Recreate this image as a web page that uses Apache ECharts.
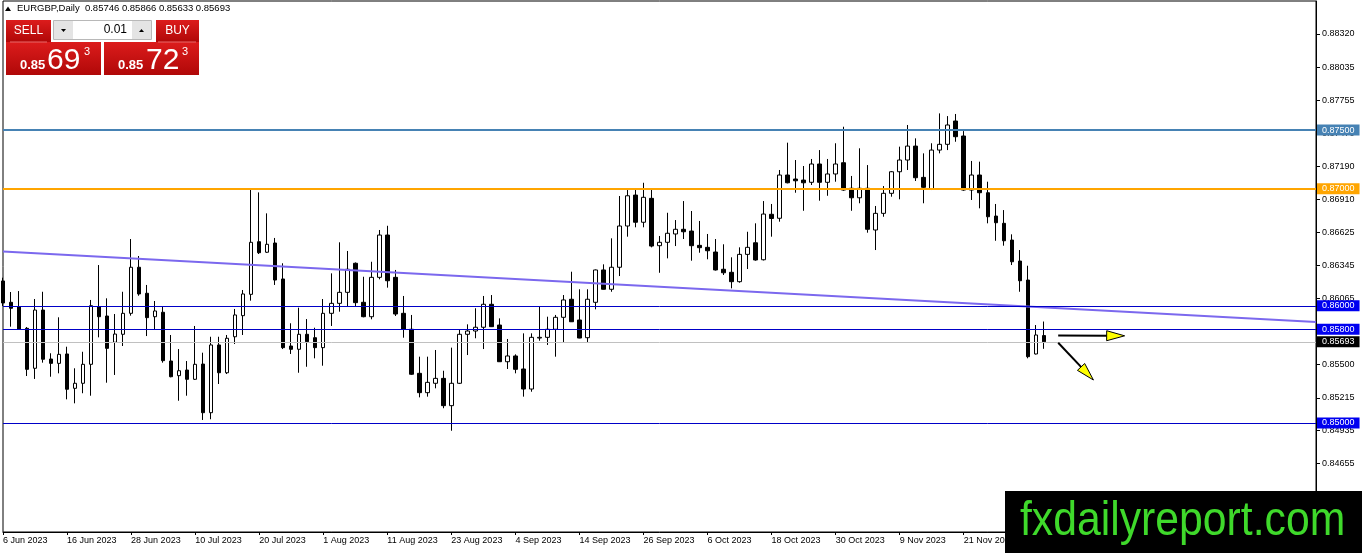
<!DOCTYPE html>
<html><head><meta charset="utf-8">
<script src="https://cdn.jsdelivr.net/npm/echarts@6/dist/echarts.min.js"></script>
<style>html,body{margin:0;padding:0;background:#fff;}#chart{width:1362px;height:553px;}</style>
</head><body><div id="chart"></div>
<script>
// ---------- data ----------
const symbolName = 'EURGBP';
const periodName = 'Daily';
const firstDate = [2023, 5, 6]; // 6 Jun 2023, weekday bars
const slotCount = 165;           // visible bar slots (incl. empty right margin)
const labelStep = 8;

const opens = [
0.86212,0.86030,0.85992,0.85808,0.85467,0.85964,0.85546,0.85509,0.85589,0.85296,
0.85339,0.85501,0.85992,0.85913,0.85689,0.85757,0.85936,0.86329,0.86107,0.85907,
0.85945,0.85529,0.85404,0.85452,0.85373,0.85503,0.85088,0.85666,0.85429,0.85736,
0.85916,0.86098,0.86547,0.86457,0.86536,0.86229,0.85657,0.85629,0.85757,0.85728,
0.85643,0.85936,0.86021,0.86115,0.86363,0.86030,0.85907,0.86243,0.86604,0.86243,
0.85936,0.85800,0.85424,0.85259,0.85339,0.85381,0.85148,0.85339,0.85757,0.85785,
0.85817,0.86013,0.85836,0.85523,0.85572,0.85461,0.85290,0.85725,0.85731,0.85800,
0.85902,0.86056,0.85879,0.85728,0.86030,0.86306,0.86141,0.86329,0.86681,0.86945,
0.86713,0.86917,0.86513,0.86542,0.86613,0.86653,0.86638,0.86516,0.86499,0.86459,
0.86312,0.86286,0.86206,0.86439,0.86538,0.86393,0.86781,0.86747,0.87116,0.87082,
0.87073,0.87054,0.87210,0.87054,0.87125,0.87221,0.87003,0.86922,0.87003,0.86647,
0.86789,0.86960,0.87144,0.87244,0.87363,0.87096,0.86994,0.87329,0.87378,0.87577,
0.87449,0.86988,0.87116,0.86965,0.86766,0.86704,0.86561,0.86382,0.86220,0.85589,
0.85746];
const highs = [
0.86240,0.86118,0.86126,0.85819,0.86058,0.86120,0.85595,0.85902,0.85651,0.85467,
0.85608,0.86050,0.86348,0.86064,0.85930,0.86120,0.86570,0.86425,0.86178,0.86041,
0.85992,0.85751,0.85631,0.85529,0.85828,0.85600,0.85736,0.85736,0.85751,0.85973,
0.86135,0.86997,0.86968,0.86789,0.86579,0.86363,0.85851,0.85984,0.85887,0.85813,
0.86058,0.86277,0.86542,0.86468,0.86370,0.86248,0.86376,0.86647,0.86683,0.86306,
0.86084,0.85922,0.85566,0.85566,0.85623,0.85446,0.85643,0.85800,0.85842,0.85979,
0.86084,0.86092,0.85893,0.85717,0.85586,0.85765,0.85765,0.85998,0.85907,0.85922,
0.86092,0.86291,0.86141,0.86141,0.86310,0.86354,0.86576,0.86937,0.86988,0.86997,
0.87050,0.86997,0.86596,0.86794,0.86732,0.86894,0.86809,0.86724,0.86613,0.86570,
0.86525,0.86414,0.86499,0.86632,0.86704,0.86894,0.86869,0.87159,0.87392,0.87244,
0.87193,0.87253,0.87329,0.87253,0.87387,0.87528,0.87108,0.87344,0.87201,0.86852,
0.87022,0.87150,0.87358,0.87543,0.87429,0.87301,0.87387,0.87642,0.87619,0.87637,
0.87491,0.87236,0.87230,0.87059,0.86869,0.86817,0.86610,0.86476,0.86342,0.85836,
0.85866];
const lows = [
0.85998,0.85822,0.85798,0.85401,0.85376,0.85515,0.85395,0.85424,0.85202,0.85168,
0.85254,0.85233,0.85731,0.85344,0.85410,0.85657,0.85916,0.86086,0.85742,0.85794,
0.85515,0.85390,0.85190,0.85233,0.85367,0.85026,0.85032,0.85333,0.85418,0.85674,
0.85751,0.86044,0.86442,0.86451,0.86178,0.85631,0.85589,0.85429,0.85480,0.85552,
0.85489,0.85828,0.85950,0.85998,0.85998,0.85902,0.85885,0.86226,0.86155,0.85913,
0.85728,0.85410,0.85219,0.85225,0.85296,0.85126,0.84934,0.85333,0.85580,0.85723,
0.85631,0.85819,0.85521,0.85461,0.85424,0.85225,0.85267,0.85702,0.85666,0.85566,
0.85685,0.85862,0.85723,0.85683,0.85970,0.86139,0.86120,0.86254,0.86590,0.86670,
0.86670,0.86499,0.86282,0.86405,0.86510,0.86570,0.86385,0.86453,0.86397,0.86301,
0.86263,0.86149,0.86197,0.86314,0.86385,0.86387,0.86590,0.86718,0.87045,0.86965,
0.86811,0.87031,0.86897,0.86939,0.87059,0.86982,0.86811,0.86875,0.86624,0.86476,
0.86760,0.86931,0.86909,0.87159,0.87065,0.86875,0.86988,0.87301,0.87329,0.87400,
0.86982,0.86903,0.86832,0.86704,0.86555,0.86513,0.86348,0.86120,0.85552,0.85585,
0.85633];
const closes = [
0.86024,0.85979,0.85802,0.85458,0.85964,0.85544,0.85509,0.85586,0.85288,0.85339,
0.85501,0.86001,0.85907,0.85637,0.85759,0.85936,0.86329,0.86101,0.85899,0.85956,
0.85532,0.85395,0.85446,0.85373,0.85501,0.85088,0.85666,0.85429,0.85723,0.85922,
0.86101,0.86542,0.86453,0.86525,0.86220,0.85643,0.85629,0.85757,0.85694,0.85643,
0.85936,0.86021,0.86115,0.86312,0.86027,0.85907,0.86243,0.86604,0.86214,0.85930,
0.85802,0.85416,0.85259,0.85347,0.85381,0.85148,0.85339,0.85757,0.85785,0.85817,
0.86013,0.85822,0.85523,0.85572,0.85458,0.85290,0.85731,0.85731,0.85800,0.85902,
0.86050,0.85864,0.85725,0.86056,0.86306,0.86141,0.86329,0.86681,0.86939,0.86713,
0.86926,0.86510,0.86542,0.86619,0.86653,0.86632,0.86513,0.86496,0.86470,0.86306,
0.86282,0.86206,0.86439,0.86499,0.86391,0.86783,0.86745,0.87116,0.87050,0.87067,
0.87050,0.87210,0.87054,0.87125,0.87210,0.86988,0.86922,0.87003,0.86653,0.86789,
0.86960,0.87144,0.87244,0.87363,0.87093,0.87011,0.87329,0.87378,0.87543,0.87443,
0.86988,0.87116,0.86965,0.86760,0.86709,0.86555,0.86376,0.86214,0.85566,0.85751,
0.85693];

const yTickValues = [0.84655,0.84935,0.85215,0.85500,0.85785,0.86065,0.86345,0.86625,0.86910,0.87190,0.87470,0.87755,0.88035,0.88320];
const levelValues = [0.87500, 0.87000, 0.86000, 0.85800, 0.85000];
const trendLinePoints = [[0, 0.86463], [164, 0.85862]];
const arrowSegments = [[131.8, 0.85747, 140.1, 0.85744], [131.8, 0.85685, 136.2, 0.85367]];
const bidQuote = ['0.85', '69', '3'];
const askQuote = ['0.85', '72', '3'];
const lotSize = '0.01';
const watermarkText = 'fxdailyreport.com';

// ---------- derived ----------
const monthNames = ['Jan','Feb','Mar','Apr','May','Jun','Jul','Aug','Sep','Oct','Nov','Dec'];
const dateLabels = [];
{
  let t = Date.UTC(firstDate[0], firstDate[1], firstDate[2]);
  while (dateLabels.length < slotCount) {
    const d = new Date(t);
    const wd = d.getUTCDay();
    if (wd !== 0 && wd !== 6) dateLabels.push(d.getUTCDate() + ' ' + monthNames[d.getUTCMonth()] + ' ' + d.getUTCFullYear());
    t += 86400000;
  }
}
const candleData = opens.map((o, i) => [i, o, closes[i], lows[i], highs[i]]);
const last = opens.length - 1;
const headerText = symbolName + ',' + periodName + '  ' + [opens[last], highs[last], lows[last], closes[last]].map(v => v.toFixed(5)).join(' ');

// ---------- styles ----------
const FONT = 'Liberation Sans, Arial, sans-serif';
const levelLineColors = ['#4682B4', '#FFA500', '#0000C8', '#0000C8', '#0000C8'];
const levelBoxColors = ['#4682B4', '#FFA500', '#0000F0', '#0000F0', '#0000F0'];
const levelWidths = [2, 2, 1, 1, 1];

const markLineData = levelValues.map((v, k) => ({
  yAxis: v,
  lineStyle: { color: levelLineColors[k], width: levelWidths[k], type: 'solid' },
  label: { backgroundColor: levelBoxColors[k] }
}));
markLineData.push({
  yAxis: closes[last],
  lineStyle: { color: '#C0C0C0', width: 1, type: 'solid' },
  label: { backgroundColor: '#000' }
});

const redFill = new echarts.graphic.LinearGradient(0, 0, 0, 1, [
  { offset: 0, color: '#dc1c1c' }, { offset: 1, color: '#b00808' }
]);

const chart = echarts.init(document.getElementById('chart'), null, { renderer: 'canvas' });
chart.setOption({
  animation: false,
  backgroundColor: '#fff',
  grid: { left: 3, right: 46, top: 1, bottom: 21, show: true, borderColor: '#000', borderWidth: 1, backgroundColor: '#fff', outerBoundsMode: 'none', containLabel: false },
  xAxis: {
    type: 'value', min: 0, max: slotCount - 1, interval: labelStep,
    axisLine: { show: true, onZero: false, lineStyle: { color: '#000', width: 1 } },
    axisTick: { show: true, inside: false, length: 3, lineStyle: { color: '#000' } },
    splitLine: { show: false }, minorTick: { show: false }, minorSplitLine: { show: false },
    axisLabel: {
      show: true, align: 'left', margin: 4, color: '#000', fontSize: 9, fontFamily: FONT,
      showMaxLabel: false, showMinLabel: true,
      formatter: v => (Number.isInteger(v) && dateLabels[v]) ? dateLabels[v] : ''
    }
  },
  yAxis: {
    type: 'value', position: 'right', min: 0.84070, max: 0.88601, scale: true,
    axisLine: { show: true, onZero: false, lineStyle: { color: '#000', width: 1 } },
    axisTick: { show: true, inside: false, length: 4, customValues: yTickValues, lineStyle: { color: '#000' } },
    splitLine: { show: false }, minorTick: { show: false }, minorSplitLine: { show: false },
    axisLabel: { show: true, customValues: yTickValues, margin: 6, color: '#000', fontSize: 9, fontFamily: FONT, formatter: v => Number(v).toFixed(5) }
  },
  series: [
    {
      type: 'candlestick', data: candleData, encode: { x: 0, y: [1, 2, 3, 4] },
      barWidth: 4, clip: true, z: 2,
      itemStyle: { color: '#fff', color0: '#000', borderColor: '#000', borderColor0: '#000', borderWidth: 1 },
      markLine: {
        silent: true, symbol: ['none', 'none'], animation: false, precision: 5,
        label: { show: true, position: 'end', distance: 1, color: '#fff', fontSize: 9, fontFamily: FONT, padding: [1, 5, 0, 5], lineHeight: 10,
          formatter: p => Number(p.value).toFixed(5) },
        emphasis: { disabled: true },
        data: markLineData
      }
    },
    {
      type: 'line', data: trendLinePoints, symbol: 'none', showSymbol: false, silent: true, z: 3, clip: true,
      lineStyle: { color: '#7B68EE', width: 2 }
    },
    {
      type: 'custom', data: arrowSegments, encode: { x: [0, 2], y: [1, 3] }, clip: false, silent: true, z: 5,
      renderItem: function (params, api) {
        const p1 = api.coord([api.value(0), api.value(1)]);
        const p2 = api.coord([api.value(2), api.value(3)]);
        const dx = p2[0] - p1[0], dy = p2[1] - p1[1];
        const len = Math.hypot(dx, dy) || 1;
        const ux = dx / len, uy = dy / len, nx = -uy, ny = ux;
        const hl = 18, hw = 5;
        const bx = p2[0] - ux * hl, by = p2[1] - uy * hl;
        return { type: 'group', children: [
          { type: 'line', shape: { x1: p1[0], y1: p1[1], x2: bx + ux * 2, y2: by + uy * 2 }, style: { stroke: '#000', lineWidth: 2 } },
          { type: 'polygon', shape: { points: [[p2[0], p2[1]], [bx + nx * hw, by + ny * hw], [bx - nx * hw, by - ny * hw]] },
            style: { fill: '#FFFF00', stroke: '#000', lineWidth: 1 } }
        ] };
      }
    }
  ],
  graphic: { elements: [
    // header
    { type: 'polygon', z: 50, shape: { points: [[5, 11], [11, 11], [8, 6.5]] }, style: { fill: '#000' } },
    { type: 'text', z: 50, left: 17, top: 3, style: { text: headerText, fill: '#000', font: '9.5px ' + FONT } },
    // SELL button
    { type: 'rect', z: 50, shape: { x: 6, y: 20, width: 45, height: 22 }, style: { fill: redFill } },
    { type: 'text', z: 51, x: 28.5, y: 31, style: { text: 'SELL', fill: '#fff', font: '12px ' + FONT, align: 'center', verticalAlign: 'middle' } },
    // lot spinner
    { type: 'rect', z: 50, shape: { x: 53.5, y: 20.5, width: 98, height: 19 }, style: { fill: '#fff', stroke: '#b8b8b8', lineWidth: 1 } },
    { type: 'rect', z: 51, shape: { x: 54, y: 21, width: 19, height: 18 }, style: { fill: '#e4e4e4' } },
    { type: 'rect', z: 51, shape: { x: 132, y: 21, width: 19, height: 18 }, style: { fill: '#e4e4e4' } },
    { type: 'polygon', z: 52, shape: { points: [[61, 29], [66, 29], [63.5, 32]] }, style: { fill: '#000' } },
    { type: 'polygon', z: 52, shape: { points: [[139, 32], [144, 32], [141.5, 29]] }, style: { fill: '#000' } },
    { type: 'text', z: 52, x: 127, y: 30, style: { text: lotSize, fill: '#000', font: '12px ' + FONT, align: 'right', verticalAlign: 'middle' } },
    // BUY button
    { type: 'rect', z: 50, shape: { x: 156, y: 20, width: 43, height: 22 }, style: { fill: redFill } },
    { type: 'text', z: 51, x: 177.5, y: 31, style: { text: 'BUY', fill: '#fff', font: '12px ' + FONT, align: 'center', verticalAlign: 'middle' } },
    // price boxes
    { type: 'rect', z: 50, shape: { x: 6, y: 42, width: 95, height: 33 }, style: { fill: redFill } },
    { type: 'rect', z: 50, shape: { x: 104, y: 42, width: 95, height: 33 }, style: { fill: redFill } },
    { type: 'line', z: 51, shape: { x1: 10, y1: 42, x2: 47, y2: 42 }, style: { stroke: '#e86a6a', lineWidth: 1 } },
    { type: 'line', z: 51, shape: { x1: 158, y1: 42, x2: 196, y2: 42 }, style: { stroke: '#e86a6a', lineWidth: 1 } },
    { type: 'text', z: 52, x: 20, y: 65.5, style: { text: bidQuote[0], fill: '#fff', font: 'bold 13px ' + FONT, verticalAlign: 'middle' } },
    { type: 'text', z: 52, x: 47, y: 61, style: { text: bidQuote[1], fill: '#fff', font: '30px ' + FONT, verticalAlign: 'middle' } },
    { type: 'text', z: 52, x: 84, y: 51.5, style: { text: bidQuote[2], fill: '#fff', font: '11px ' + FONT, verticalAlign: 'middle' } },
    { type: 'text', z: 52, x: 118, y: 65.5, style: { text: askQuote[0], fill: '#fff', font: 'bold 13px ' + FONT, verticalAlign: 'middle' } },
    { type: 'text', z: 52, x: 146, y: 61, style: { text: askQuote[1], fill: '#fff', font: '30px ' + FONT, verticalAlign: 'middle' } },
    { type: 'text', z: 52, x: 182, y: 51.5, style: { text: askQuote[2], fill: '#fff', font: '11px ' + FONT, verticalAlign: 'middle' } },
    // watermark
    { type: 'rect', z: 60, shape: { x: 1005, y: 491, width: 357, height: 62 }, style: { fill: '#000' } },
    { type: 'text', z: 61, x: 1020, y: 522, scaleX: 0.89, style: { text: watermarkText, fill: '#3FD92B', font: '48px ' + FONT, verticalAlign: 'middle' } }
  ] }
});
</script>
</body></html>
